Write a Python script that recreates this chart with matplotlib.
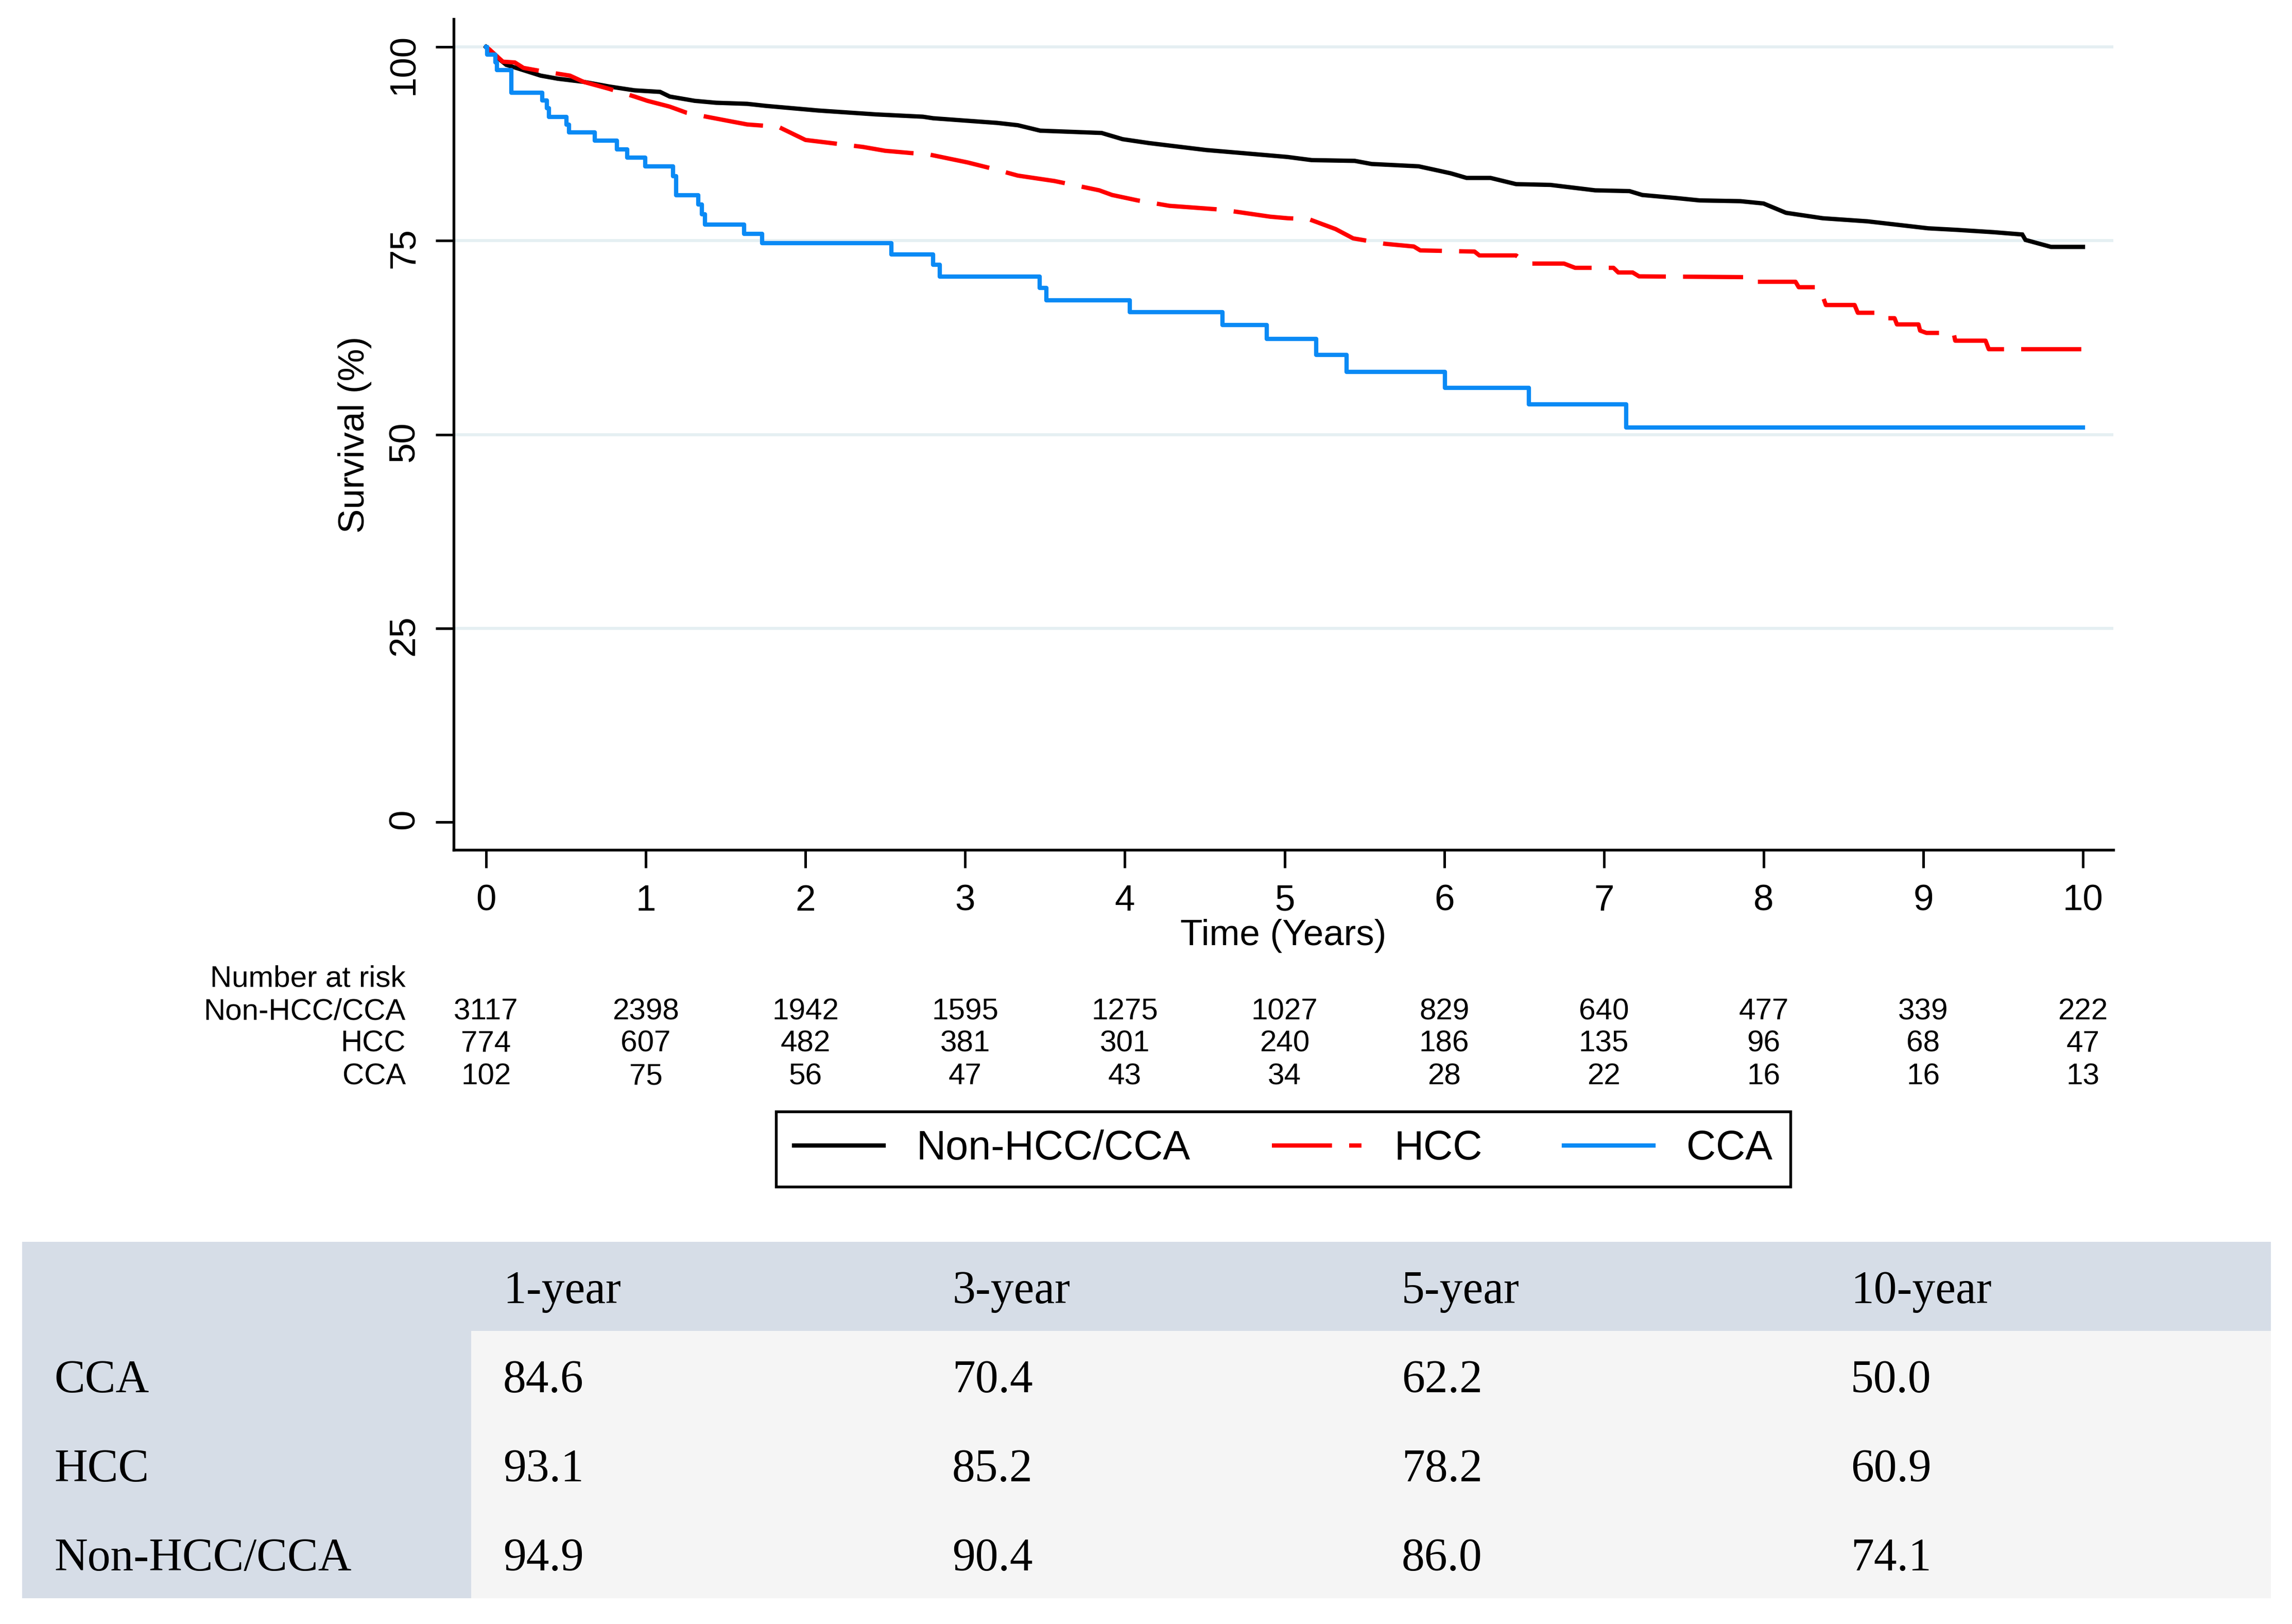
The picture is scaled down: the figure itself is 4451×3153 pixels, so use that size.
import matplotlib
matplotlib.use('Agg')
import matplotlib.pyplot as plt
from matplotlib.patches import Rectangle
import matplotlib.transforms as mtransforms

# ---------------- data ----------------
# Non-HCC/CCA (black)
t_non = [0, 0.084, 0.126, 0.235, 0.342, 0.45, 0.61, 0.77, 0.93, 1.09, 1.15, 1.306, 1.44,
         1.635, 1.75, 2.08, 2.44, 2.735, 2.80, 3.20, 3.33, 3.47, 3.855, 3.986, 4.15, 4.51,
         4.74, 5.02, 5.17, 5.44, 5.545, 5.84, 6.04, 6.14, 6.29, 6.45, 6.665, 6.945, 7.16,
         7.24, 7.455, 7.6, 7.855, 8.0, 8.14, 8.37, 8.65, 8.82, 9.03, 9.21, 9.44, 9.62, 9.64,
         9.80, 10.0]
s_non = [100, 98.4, 97.7, 97.0, 96.3, 95.9, 95.5, 94.9, 94.4, 94.2, 93.6, 93.05, 92.8,
         92.66, 92.4, 91.8, 91.3, 91.0, 90.8, 90.2, 89.9, 89.2, 88.9, 88.1, 87.6, 86.7,
         86.3, 85.8, 85.4, 85.3, 84.9, 84.6, 83.7, 83.1, 83.1, 82.3, 82.2, 81.5, 81.4,
         80.9, 80.5, 80.2, 80.1, 79.8, 78.6, 77.9, 77.5, 77.1, 76.6, 76.4, 76.1, 75.8, 75.1,
         74.2, 74.2]

# HCC (red dashed)
t_hcc = [0, 0.02, 0.105, 0.18, 0.234, 0.34, 0.525, 0.61, 0.77, 0.93, 1.01, 1.15, 1.257,
         1.405, 1.635, 1.83, 2.0, 2.16, 2.36, 2.50, 2.78, 3.015, 3.18, 3.33, 3.56, 3.84,
         3.92, 4.08, 4.28, 4.61, 4.91, 5.02, 5.15, 5.32, 5.43, 5.63, 5.81, 5.85, 6.19, 6.22,
         6.45, 6.52, 6.75, 6.82, 7.06, 7.09, 7.18, 7.22, 7.88, 7.90, 8.20, 8.22, 8.35, 8.39,
         8.57, 8.59, 8.70, 8.72, 8.82, 8.835, 8.97, 8.98, 9.02, 9.19, 9.20, 9.39, 9.41, 10.0]
s_hcc = [100, 99.7, 98.1, 98.0, 97.3, 96.9, 96.3, 95.5, 94.6, 93.6, 93.05, 92.3, 91.5,
         90.9, 90.0, 89.7, 88.0, 87.6, 87.1, 86.6, 86.1, 85.1, 84.25, 83.4, 82.7, 81.5,
         80.9, 80.2, 79.5, 79.0, 78.1, 77.9, 77.8, 76.5, 75.3, 74.6, 74.25, 73.75, 73.6, 73.1,
         73.1, 72.05, 72.05, 71.5, 71.5, 70.9, 70.9, 70.4, 70.3, 69.7, 69.7, 69.0, 69.0, 66.7,
         66.7, 65.7, 65.7, 65.0, 65.0, 64.2, 64.2, 63.4, 63.1, 63.1, 62.1, 62.1, 61.0, 61.0]

# CCA (blue, step function)
t_cca = [0, 0.005, 0.057, 0.068, 0.158, 0.352, 0.38, 0.395, 0.503, 0.52, 0.68, 0.82, 0.885,
         0.998, 1.17, 1.19, 1.328, 1.35, 1.37, 1.616, 1.73, 2.537, 2.80, 2.84, 3.468, 3.51,
         4.03, 4.61, 4.89, 5.197, 5.39, 6.004, 6.53, 7.14, 10.0]
s_cca = [100, 99.0, 98.0, 97.0, 94.1, 93.1, 92.1, 91.0, 90.0, 89.0, 87.9, 86.8, 85.7,
         84.6, 83.3, 80.9, 79.7, 78.4, 77.1, 75.9, 74.7, 73.2, 71.9, 70.4, 68.9, 67.3,
         65.8, 64.1, 62.3, 60.3, 58.1, 56.0, 53.9, 50.9, 50.9]

years = [0, 1, 2, 3, 4, 5, 6, 7, 8, 9, 10]
yticks = [0, 25, 50, 75, 100]
gridlines = [25, 50, 75, 100]

risk_names = ['Non-HCC/CCA', 'HCC', 'CCA']
risk_non = [3117, 2398, 1942, 1595, 1275, 1027, 829, 640, 477, 339, 222]
risk_hcc = [774, 607, 482, 381, 301, 240, 186, 135, 96, 68, 47]
risk_cca = [102, 75, 56, 47, 43, 34, 28, 22, 16, 16, 13]

tab_cols = ['1-year', '3-year', '5-year', '10-year']
tab_rows = ['CCA', 'HCC', 'Non-HCC/CCA']
tab_vals = [['84.6', '70.4', '62.2', '50.0'],
            ['93.1', '85.2', '78.2', '60.9'],
            ['94.9', '90.4', '86.0', '74.1']]

###################################
W, H = 4451, 3153
dpi = 300
sans = 'Liberation Sans'
serif = 'Liberation Serif'
tick_fs = 17
label_fs = 17
risk_fs = 14
legend_fs = 19
table_fs = 21.5
lw = 2.0
c_non = '#000000'
c_hcc = '#ff0000'
c_cca = '#0a8af5'
###################################

plt.rcParams['font.family'] = sans


def fy(p):
    return 1 - p / H


fig = plt.figure(figsize=(W / dpi, H / dpi), dpi=dpi)
ax = fig.add_axes([881 / W, fy(1650), (4104 - 881) / W, (1650 - 37) / H])

for g in gridlines:
    ax.axhline(g, color='#e5eff2', linewidth=1.4, zorder=0)

l1, = ax.plot(t_non, s_non, color=c_non, linewidth=lw, solid_joinstyle='miter')
l2, = ax.plot(t_hcc, s_hcc, color=c_hcc, linewidth=lw, linestyle=(0, (14, 4)))
l3, = ax.plot(t_cca, s_cca, color=c_cca, linewidth=lw, drawstyle='steps-post')

ax.set_xlim(-0.203, 10.19)
ax.set_ylim(-3.6, 103.6)
ax.set_xticks(years)
ax.set_yticks(yticks)
ax.spines['top'].set_visible(False)
ax.spines['right'].set_visible(False)
for sp in ['left', 'bottom']:
    ax.spines[sp].set_linewidth(1.3)
ax.tick_params(axis='both', direction='out', length=8.5, width=1.2, labelsize=tick_fs)
ax.tick_params(axis='x', pad=7.5)
ax.tick_params(axis='y', pad=6.5, labelrotation=90)

ax.set_xlabel('Time (Years)', fontsize=label_fs)
ax.xaxis.label.set_va('baseline')
ax.xaxis.set_label_coords(0.5, -(1835 - 1650) / (1650 - 37))
ax.set_ylabel('Survival (%)', fontsize=label_fs)
ax.yaxis.set_label_coords(-(881 - 722) / (4104 - 881), 0.5)

# number at risk
trans = mtransforms.blended_transform_factory(ax.transData, fig.transFigure)
fig.text(788 / W, fy(1916), 'Number at risk', ha='right', va='baseline', fontsize=risk_fs)
row_base = [1979, 2042, 2105]
for name, vals, yb in zip(risk_names, [risk_non, risk_hcc, risk_cca], row_base):
    fig.text(788 / W, fy(yb), name, ha='right', va='baseline', fontsize=risk_fs)
    for t, v in zip(years, vals):
        ax.text(t, fy(yb), str(v), transform=trans, ha='center', va='baseline',
                fontsize=risk_fs)

leg = fig.legend(handles=[l1, l2, l3], labels=risk_names, loc='center',
                 bbox_to_anchor=(2492 / W, fy(2231)), ncol=3, fontsize=legend_fs,
                 frameon=True, fancybox=False, edgecolor='black', framealpha=1,
                 handlelength=2.2, handletextpad=0.8, columnspacing=2.0,
                 borderpad=0.45, borderaxespad=0)
leg.get_frame().set_linewidth(1.3)

# survival table
tax = fig.add_axes([0, 0, 1, 1])
tax.set_xlim(0, W)
tax.set_ylim(H, 0)
tax.axis('off')
head_c = '#d6dde7'
body_c = '#f5f5f5'
tx0, tx1, ty0, ty1, ty_head, tx_col = 43, 4410, 2411, 3103, 2584, 915
tax.add_patch(Rectangle((tx0, ty0), tx1 - tx0, ty_head - ty0, color=head_c, lw=0))
tax.add_patch(Rectangle((tx0, ty_head), tx_col - tx0, ty1 - ty_head, color=head_c, lw=0))
tax.add_patch(Rectangle((tx_col, ty_head), tx1 - tx_col, ty1 - ty_head, color=body_c, lw=0))
col_x = [105, 977, 1849, 2722, 3594]
base_y = [2530, 2703, 2876, 3049]
for j, c in enumerate(tab_cols):
    tax.text(col_x[j + 1], base_y[0], c, ha='left', va='baseline',
             fontsize=table_fs, family=serif)
for i, r in enumerate(tab_rows):
    tax.text(col_x[0], base_y[i + 1], r, ha='left', va='baseline',
             fontsize=table_fs, family=serif)
    for j, v in enumerate(tab_vals[i]):
        tax.text(col_x[j + 1], base_y[i + 1], v, ha='left', va='baseline',
                 fontsize=table_fs, family=serif)

plt.savefig('out.png', dpi=dpi)
